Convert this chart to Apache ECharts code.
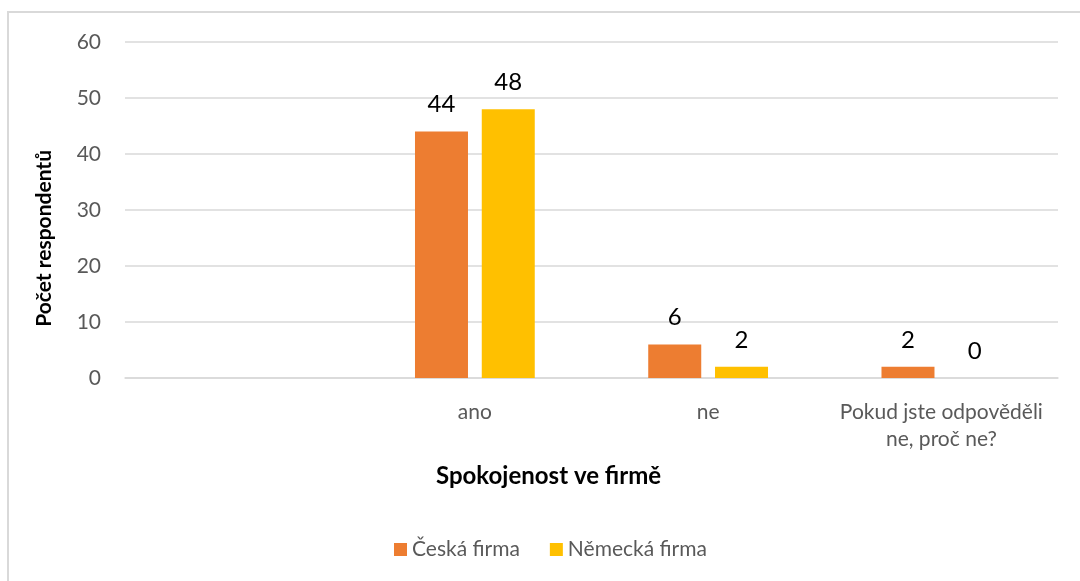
<!DOCTYPE html>
<html>
<head>
<meta charset="utf-8">
<script src="https://cdn.jsdelivr.net/npm/echarts@6/dist/echarts.min.js"></script>
<style>
  html, body { margin: 0; padding: 0; background: #fff; overflow: hidden; }
  #frame { position: absolute; left: 7px; top: 11px; width: 1100px; height: 600px; border: 2px solid #d9d9d9; box-sizing: border-box; }
  #chart { position: absolute; left: 0; top: 0; width: 1080px; height: 581px; }
</style>
</head>
<body>
<div id="frame"></div>
<div id="chart"></div>
<script>
// data
const categories = ['', 'ano', 'ne', 'Pokud jste odpověděli\nne, proč ne?']
const ceskaFirma = [null, 44, 6, 2]
const nemeckaFirma = [null, 48, 2, 0]
const seriesNames = ['Česká firma', 'Německá firma']
const yTicks = { min: 0, max: 60, interval: 10 }

const FONT = 'Lato, "Open Sans", sans-serif'
const chart = echarts.init(document.getElementById('chart'))

const barLabel = { show: true, position: 'top', distance: 15, color: '#000', fontSize: 24, fontFamily: FONT }

chart.setOption({
  animation: false,
  textStyle: { fontFamily: FONT },
  grid: { left: 125, right: 22, top: 42, bottom: 203 },
  legend: {
    top: 534, left: 389, itemWidth: 13, itemHeight: 13, itemGap: 30,
    icon: 'rect',
    textStyle: { color: '#595959', fontSize: 21, fontFamily: FONT },
    data: seriesNames
  },
  xAxis: {
    type: 'category',
    data: categories,
    axisLine: { lineStyle: { color: '#d9d9d9', width: 1.5 } },
    axisTick: { show: false },
    axisLabel: { color: '#595959', fontSize: 21, margin: 21, lineHeight: 27, interval: 0, fontFamily: FONT }
  },
  yAxis: {
    type: 'value',
    min: yTicks.min, max: yTicks.max, interval: yTicks.interval,
    axisLine: { show: false },
    axisTick: { show: false },
    axisLabel: { color: '#595959', fontSize: 21, margin: 24, fontFamily: FONT },
    splitLine: { lineStyle: { color: '#d9d9d9', width: 1.5 } }
  },
  graphic: [
    {
      type: 'text', left: 34, top: 150, rotation: Math.PI / 2,
      style: { text: 'Počet respondentů', fill: '#000', font: 'bold 21px ' + FONT }
    },
    {
      type: 'text', left: 436, top: 464,
      style: { text: 'Spokojenost ve firmě', fill: '#000', font: 'bold 24px ' + FONT }
    }
  ],
  series: [
    {
      name: seriesNames[0], type: 'bar', data: ceskaFirma,
      barWidth: 53, barGap: '26%',
      itemStyle: { color: '#ED7D31' }, label: barLabel
    },
    {
      name: seriesNames[1], type: 'bar', data: nemeckaFirma,
      barWidth: 53,
      itemStyle: { color: '#FFC000' }, label: barLabel
    }
  ]
})
</script>
</body>
</html>
